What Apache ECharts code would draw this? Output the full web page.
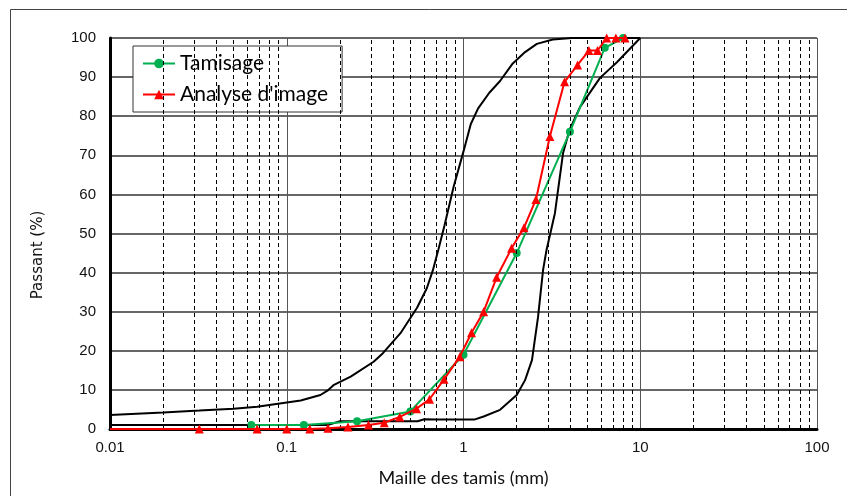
<!DOCTYPE html>
<html>
<head>
<meta charset="utf-8">
<script src="https://cdn.jsdelivr.net/npm/echarts@6/dist/echarts.min.js"></script>
<style>html,body{margin:0;padding:0;background:#fff;}#c{width:847px;height:496px;}</style>
</head>
<body>
<div id="c"></div>
<script>
// Tamisage (sieving)
const tamisX = [0.063, 0.125, 0.25, 0.5, 1, 2, 4, 6.3, 8];
const tamisY = [1, 1, 2, 4.5, 19, 45, 76, 97.5, 100];
// Analyse d'image
const analyseX = [0.01, 0.032, 0.068, 0.1, 0.135, 0.171, 0.222, 0.29, 0.356, 0.436, 0.542, 0.642, 0.776, 0.953, 1.11, 1.30, 1.54, 1.87, 2.2, 2.57, 3.08, 3.73, 4.42, 5.12, 5.73, 6.46, 7.28, 8.2];
const analyseY = [0, 0, 0, 0, 0, 0.2, 0.5, 1, 1.6, 3.1, 5.2, 7.6, 12.7, 18.5, 24.6, 30, 38.8, 46.2, 51.5, 58.7, 74.8, 88.8, 93.1, 96.8, 96.8, 100, 100, 100];
// Upper envelope (fine limit)
const upperX = [0.01, 0.02, 0.032, 0.05, 0.068, 0.1, 0.12, 0.155, 0.17, 0.185, 0.23, 0.31, 0.35, 0.44, 0.546, 0.62, 0.67, 0.72, 0.78, 0.88, 1.0, 1.1, 1.21, 1.4, 1.61, 1.9, 2.23, 2.6, 3.2, 4.1, 10];
const upperY = [3.6, 4.2, 4.7, 5.2, 5.7, 6.8, 7.3, 8.7, 9.8, 11.3, 13.4, 17.2, 19.4, 24.5, 31, 36, 40.5, 45.8, 52, 62, 71, 78, 82, 86, 89, 93.5, 96.4, 98.5, 99.6, 100, 100];
// Lower envelope (coarse limit)
const lowerX = [0.01, 0.17, 0.2, 0.55, 0.6, 0.7, 1.15, 1.3, 1.61, 2.0, 2.23, 2.44, 2.64, 2.82, 2.95, 3.29, 3.66, 3.98, 4.57, 5.92, 7.38, 10];
const lowerY = [1, 1, 2, 2, 2.5, 2.4, 2.4, 3.2, 4.9, 8.7, 12.5, 17.6, 28.6, 40.7, 45.8, 55.2, 70.6, 76.5, 82.4, 89.8, 93.8, 100];
// Minor (dashed) vertical grid values
const minorTicks = [0.02,0.03,0.04,0.05,0.06,0.07,0.08,0.09,0.2,0.3,0.4,0.5,0.6,0.7,0.8,0.9,2,3,4,5,6,7,8,9,20,30,40,50,60,70,80,90];
const xTickLabels = ['0.01', '0.1', '1', '10', '100'];

const zip = (xs, ys) => xs.map((x, i) => [x, ys[i]]);
const chart = echarts.init(document.getElementById('c'));
chart.setOption({
  animation: false,
  backgroundColor: '#fff',
  grid: { left: 110, top: 38, right: 30, bottom: 67 },
  xAxis: {
    type: 'log', logBase: 10, min: 0.01, max: 100,
    axisLine: { show: true, onZero: false, lineStyle: { color: '#000', width: 3 } },
    axisTick: { show: false },
    axisLabel: { color: '#111', fontFamily: 'Liberation Sans', fontSize: 15, margin: 11,
      formatter: v => { const s = String(v); return xTickLabels.includes(s) ? s : ''; } },
    splitLine: { show: true, lineStyle: { color: '#555', width: 1 } },
    name: 'Maille des tamis (mm)', nameLocation: 'middle', nameGap: 40,
    nameTextStyle: { color: '#111', fontFamily: 'Lato', fontSize: 18 }
  },
  yAxis: {
    type: 'value', min: 0, max: 100, interval: 10,
    axisLine: { show: true, lineStyle: { color: '#000', width: 3 } },
    axisTick: { show: false },
    axisLabel: { color: '#111', fontFamily: 'Liberation Sans', fontSize: 15, margin: 14 },
    splitLine: { show: true, lineStyle: { color: '#666', width: 2 } }
  },
  legend: {
    data: ['Tamisage', "Analyse d'image"],
    orient: 'vertical', left: 133, top: 46,
    backgroundColor: '#fff', borderColor: '#333', borderWidth: 1,
    padding: [6, 14, 6, 9], itemGap: 8,
    itemWidth: 32, itemHeight: 12,
    textStyle: { color: '#000', fontFamily: 'Lato', fontSize: 21, lineHeight: 23 }
  },
  graphic: [
    { type: 'rect', shape: { x: 10.5, y: 9.5, width: 900, height: 600 }, style: { fill: 'none', stroke: '#444', lineWidth: 1 }, z: -10, silent: true },
    { type: 'text', x: 38, y: 255, rotation: Math.PI / 2, style: { text: 'Passant (%)', fill: '#111', font: '15px "DejaVu Sans"', align: 'center', verticalAlign: 'middle' } }
  ],
  series: [
    {
      name: 'minor', type: 'line', data: [], silent: true,
      markLine: {
        silent: true, symbol: 'none', label: { show: false }, animation: false,
        lineStyle: { color: '#000', width: 1, type: [4, 3] },
        data: minorTicks.map(v => ({ xAxis: v }))
      }
    },
    { name: 'upper', type: 'line', data: zip(upperX, upperY), showSymbol: false, symbol: 'none',
      lineStyle: { color: '#000', width: 2 }, z: 3 },
    { name: 'lower', type: 'line', data: zip(lowerX, lowerY), showSymbol: false, symbol: 'none',
      lineStyle: { color: '#000', width: 2 }, z: 3 },
    { name: 'Tamisage', type: 'line', data: zip(tamisX, tamisY), symbol: 'circle', symbolSize: 8,
      itemStyle: { color: '#00b050' }, lineStyle: { color: '#00b050', width: 2 }, z: 4 },
    { name: "Analyse d'image", type: 'line',
      data: analyseX.map((x, i) => i === 0 ? { value: [x, analyseY[i]], symbol: 'none' } : [x, analyseY[i]]),
      symbol: 'triangle', symbolSize: 9,
      itemStyle: { color: '#ff0000' }, lineStyle: { color: '#ff0000', width: 2 }, z: 5 }
  ]
});
</script>
</body>
</html>
